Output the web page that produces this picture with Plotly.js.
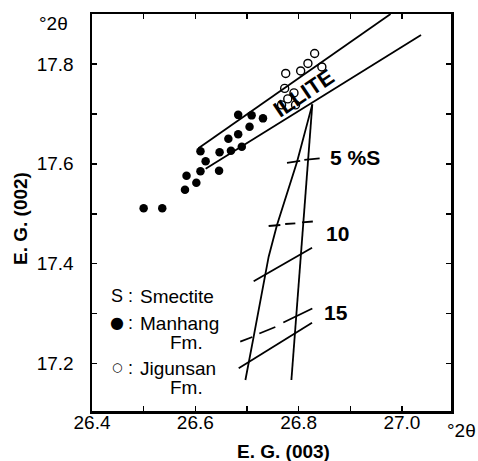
<!DOCTYPE html>
<html>
<head>
<meta charset="utf-8">
<script src="https://cdn.plot.ly/plotly-3.0.1.min.js"></script>
<style>html,body{margin:0;padding:0;background:#fff;}#chart{width:478px;height:461px;}</style>
</head>
<body>
<div id="chart"></div>
<script>
// ---- data ----
const manhangX = [26.500, 26.536, 26.580, 26.583, 26.602, 26.610, 26.620, 26.610, 26.646, 26.647, 26.669, 26.664, 26.690, 26.683, 26.705, 26.683, 26.709, 26.731];
const manhangY = [17.511, 17.511, 17.548, 17.576, 17.562, 17.585, 17.605, 17.625, 17.586, 17.623, 17.626, 17.650, 17.634, 17.659, 17.674, 17.698, 17.697, 17.691];
const jigunsanX = [26.831, 26.818, 26.804, 26.775, 26.845, 26.773, 26.791, 26.779, 26.767, 26.794];
const jigunsanY = [17.821, 17.801, 17.786, 17.781, 17.794, 17.751, 17.742, 17.730, 17.718, 17.718];

const illiteUpperX = [26.606, 26.978];
const illiteUpperY = [17.631, 17.900];
const illiteLowerX = [26.620, 27.037];
const illiteLowerY = [17.590, 17.858];

const trendLeftX = [26.8265, 26.797, 26.758, 26.742, 26.713, 26.697];
const trendLeftY = [17.719, 17.604, 17.477, 17.414, 17.254, 17.167];
const trendRightX = [26.8265, 26.786];
const trendRightY = [17.719, 17.167];

const mark5X = [26.7775, 26.803, null, 26.811, 26.8407];
const mark5Y = [17.602, 17.606, null, 17.608, 17.611];
const mark10X = [26.742, 26.7646, null, 26.774, 26.7936, null, 26.8066, 26.8275];
const mark10Y = [17.4755, 17.4775, null, 17.4795, 17.4809, null, 17.4829, 17.4845];
const line10X = [26.713, 26.826];
const line10Y = [17.365, 17.432];
const mark15X = [26.687, 26.7104, null, 26.724, 26.7549, null, 26.7704, 26.8265];
const mark15Y = [17.2438, 17.2532, null, 17.2602, 17.2732, null, 17.2823, 17.3103];
const line15X = [26.684, 26.826];
const line15Y = [17.1905, 17.2819];

const xTickVals = [26.4, 26.5, 26.6, 26.7, 26.8, 26.9, 27.0];
const xTickText = ['26.4', '', '26.6', '', '26.8', '', '27.0'];
const yTickVals = [17.2, 17.3, 17.4, 17.5, 17.6, 17.7, 17.8];
const yTickText = ['17.2', '', '17.4', '', '17.6', '', '17.8'];
const pctLabels = ['5 %S', '10', '15'];

// ---- chart ----
const FONT = 'Liberation Sans, Arial, sans-serif';
const lineStyle = {color: '#000', width: 1.8};
function ln(x, y) { return {x: x, y: y, mode: 'lines', line: lineStyle, hoverinfo: 'skip', showlegend: false, connectgaps: false}; }

const traces = [
  ln(illiteUpperX, illiteUpperY),
  ln(illiteLowerX, illiteLowerY),
  ln(trendLeftX, trendLeftY),
  ln(trendRightX, trendRightY),
  ln(mark5X, mark5Y),
  ln(mark10X, mark10Y),
  ln(line10X, line10Y),
  ln(mark15X, mark15Y),
  ln(line15X, line15Y),
  {x: manhangX, y: manhangY, mode: 'markers', name: 'Manhang Fm.', showlegend: false,
   marker: {symbol: 'circle', size: 8.5, color: '#000', line: {width: 0}}},
  {x: jigunsanX, y: jigunsanY, mode: 'markers', name: 'Jigunsan Fm.', showlegend: false,
   marker: {symbol: 'circle-open', size: 8, color: '#000', line: {width: 1.4, color: '#000'}}}
];

// pixel helpers for text placement only
const L = 92, R = 451, T = 14, B = 411;
const XR = [26.4, 27.095], YR = [17.105, 17.9];
const pxX = p => XR[0] + (p - L) / (R - L) * (XR[1] - XR[0]);
const pxY = p => YR[1] - (p - T) / (B - T) * (YR[1] - YR[0]);

function ann(text, px, py, opts) {
  return Object.assign({text: text, x: pxX(px), y: pxY(py), xref: 'x', yref: 'y', showarrow: false,
    xanchor: 'center', yanchor: 'middle', font: {family: FONT, size: 18, color: '#000'}}, opts || {});
}

const annotations = [
  ann(pctLabels[0], 355, 157, {font: {family: FONT, size: 21, color: '#000', weight: 'bold'}}),
  ann(pctLabels[1], 337, 233, {font: {family: FONT, size: 21, color: '#000', weight: 'bold'}}),
  ann(pctLabels[2], 336, 312, {font: {family: FONT, size: 21, color: '#000', weight: 'bold'}}),
  ann('ILLITE', 303, 93, {textangle: -34, font: {family: FONT, size: 22, color: '#000', weight: 'bold'}}),
  // legend
  ann('S', 116.5, 296, {}),
  ann(':', 130, 296, {}),
  ann('Smectite', 138, 296, {xanchor: 'left', font: {family: FONT, size: 19, color: '#000'}}),
  ann('●', 116.5, 322, {font: {family: 'DejaVu Sans', size: 16, color: '#000'}}),
  ann(':', 130, 323, {}),
  ann('Manhang', 138, 323, {xanchor: 'left', font: {family: FONT, size: 19, color: '#000'}}),
  ann('Fm.', 168, 342, {xanchor: 'left', font: {family: FONT, size: 19, color: '#000'}}),
  ann('○', 116.5, 367, {font: {family: 'DejaVu Sans', size: 12, color: '#000'}}),
  ann(':', 130, 368, {}),
  ann('Jigunsan', 138, 368, {xanchor: 'left', font: {family: FONT, size: 19, color: '#000'}}),
  ann('Fm.', 168, 387, {xanchor: 'left', font: {family: FONT, size: 19, color: '#000'}}),
  // units and axis titles
  {text: '°2θ', xref: 'paper', yref: 'paper', x: (53 - L) / (R - L), y: (B - 23.5) / (B - T), showarrow: false,
   xanchor: 'center', yanchor: 'middle', font: {family: FONT, size: 19, color: '#000'}},
  {text: '°2θ', xref: 'paper', yref: 'paper', x: (461 - L) / (R - L), y: (B - 430) / (B - T), showarrow: false,
   xanchor: 'center', yanchor: 'middle', font: {family: FONT, size: 19, color: '#000'}},
  {text: 'E. G. (003)', xref: 'paper', yref: 'paper', x: (283 - L) / (R - L), y: (B - 452) / (B - T), showarrow: false,
   xanchor: 'center', yanchor: 'middle', font: {family: FONT, size: 19, color: '#000', weight: 'bold'}},
  {text: 'E. G. (002)', xref: 'paper', yref: 'paper', x: (21 - L) / (R - L), y: (B - 219) / (B - T), showarrow: false,
   textangle: -90, xanchor: 'center', yanchor: 'middle', font: {family: FONT, size: 19, color: '#000', weight: 'bold'}}
];

const axisCommon = {
  showgrid: false, zeroline: false, showline: true, linecolor: '#000', linewidth: 2.5, mirror: 'ticks',
  ticks: 'inside', ticklen: 5, tickwidth: 1.5, tickcolor: '#000', tickmode: 'array',
  tickfont: {family: FONT, size: 19, color: '#000'}
};

const layout = {
  width: 478, height: 461,
  margin: {l: L, r: 478 - R, t: T, b: 461 - B, pad: 0},
  paper_bgcolor: '#fff', plot_bgcolor: '#fff',
  showlegend: false,
  xaxis: Object.assign({}, axisCommon, {range: XR, tickvals: xTickVals, ticktext: xTickText, ticklabelstandoff: -7}),
  yaxis: Object.assign({}, axisCommon, {range: YR, tickvals: yTickVals, ticktext: yTickText, ticklabelstandoff: 12}),
  annotations: annotations
};

Plotly.newPlot('chart', traces, layout, {displayModeBar: false, staticPlot: true});
</script>
</body>
</html>
